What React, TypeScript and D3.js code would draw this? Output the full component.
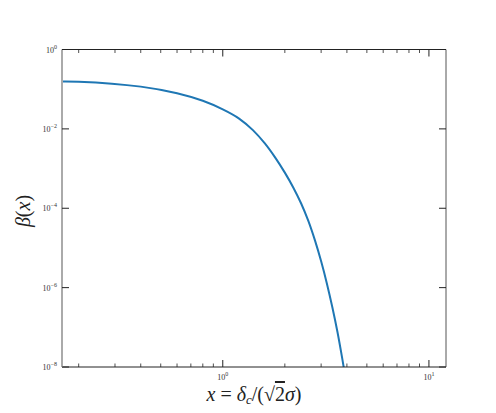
import React from 'react';
import * as d3 from 'd3';

// beta(x), x in steps of 0.2
const xs = [0.15, 0.2, 0.4, 0.6, 0.8, 1.0, 1.2, 1.4, 1.6, 1.8, 2.0, 2.2, 2.4, 2.6, 2.8, 3.0, 3.2, 3.4, 3.6, 3.8, 4.0];
const betas = [0.156, 0.155, 0.116, 0.079, 0.051, 0.031, 0.0182, 0.0093, 0.0043, 0.00186, 7.9e-4, 3.3e-4, 1.32e-4, 4.8e-5, 1.55e-5, 4.6e-6, 1.26e-6, 3.2e-7, 7.6e-8, 1.6e-8, 3.2e-9];

const xMajor = [1, 10];
const xMinor = [0.2, 0.3, 0.4, 0.5, 0.6, 0.7, 0.8, 0.9, 2, 3, 4, 5, 6, 7, 8, 9];
const yMajor = [1, 1e-2, 1e-4, 1e-6, 1e-8];

const W = 496;
const H = 413;
const left = 62;
const top = 49.5;
const right = 446;
const bottom = 367;
const font = '"Liberation Serif", "DejaVu Serif", serif';

const Pow10 = ({ x, y, exp, anchor }: { x: number; y: number; exp: number; anchor: string }) => (
  <text x={x} y={y} textAnchor={anchor} fontFamily={font} fontSize={8} fill="#333">
    10
    <tspan dy={-4} fontSize={6}>{exp < 0 ? '\u2212' + Math.abs(exp) : exp}</tspan>
  </text>
);

export default function App() {
  const x = d3.scaleLog().domain([0.166, 12.1]).range([left, right]);
  const y = d3.scaleLog().domain([1e-8, 1]).range([bottom, top]);

  const line = d3.line<number>()
    .x((d, i) => x(xs[i]))
    .y(d => y(d))
    .curve(d3.curveCatmullRom.alpha(0.5));

  return (
    <svg width={W} height={H} style={{ position: 'absolute', left: 0, top: 0 }}>
      <defs>
        <clipPath id="plot">
          <rect x={left} y={top} width={right - left} height={bottom - top} />
        </clipPath>
      </defs>
      <rect width={W} height={H} fill="#fff" />

      <path d={line(betas) || ''} fill="none" stroke="#1f77b4" strokeWidth={2} clipPath="url(#plot)" />

      {/* spines */}
      <line x1={left} x2={right} y1={top} y2={top} stroke="#222" strokeWidth={1} />
      <line x1={left} x2={right} y1={bottom} y2={bottom} stroke="#222" strokeWidth={1} />
      <line x1={right} x2={right} y1={top} y2={bottom} stroke="#555" strokeWidth={1} />
      <line x1={left} x2={left} y1={top} y2={bottom} stroke="#aaa" strokeWidth={2} />

      {/* x ticks, inward on top and bottom */}
      {xMajor.map(t => (
        <g key={'xM' + t}>
          <line x1={x(t)} x2={x(t)} y1={bottom} y2={bottom - 7} stroke="#222" strokeWidth={1} />
          <line x1={x(t)} x2={x(t)} y1={top} y2={top + 7} stroke="#222" strokeWidth={1} />
          <Pow10 x={x(t)} y={bottom + 13} exp={Math.round(Math.log10(t))} anchor="middle" />
        </g>
      ))}
      {xMinor.map(t => (
        <g key={'xm' + t}>
          <line x1={x(t)} x2={x(t)} y1={bottom} y2={bottom - 3.5} stroke="#222" strokeWidth={0.8} />
          <line x1={x(t)} x2={x(t)} y1={top} y2={top + 3.5} stroke="#222" strokeWidth={0.8} />
        </g>
      ))}

      {/* y ticks */}
      {yMajor.map(t => (
        <g key={'yM' + t}>
          <line x1={left} x2={left + 7} y1={y(t)} y2={y(t)} stroke="#222" strokeWidth={1} />
          <line x1={right} x2={right - 7} y1={y(t)} y2={y(t)} stroke="#222" strokeWidth={1} />
          <Pow10 x={57} y={y(t) + 3} exp={Math.round(Math.log10(t))} anchor="end" />
        </g>
      ))}

      <text x={254} y={401} textAnchor="middle" fontFamily={font} fontSize={20} fill="#222">
        <tspan fontStyle="italic">x</tspan> = <tspan fontStyle="italic">δ</tspan>
        <tspan fontStyle="italic" fontSize={13} dy={3}>c</tspan>
        <tspan dy={-3}>/(√</tspan>
        <tspan textDecoration="overline">2</tspan>
        <tspan fontStyle="italic">σ</tspan>)
      </text>
      <text transform="translate(30,211) rotate(-90)" textAnchor="middle" fontFamily={font} fontSize={20} fill="#222">
        <tspan fontStyle="italic">β</tspan>(<tspan fontStyle="italic">x</tspan>)
      </text>
    </svg>
  );
}
